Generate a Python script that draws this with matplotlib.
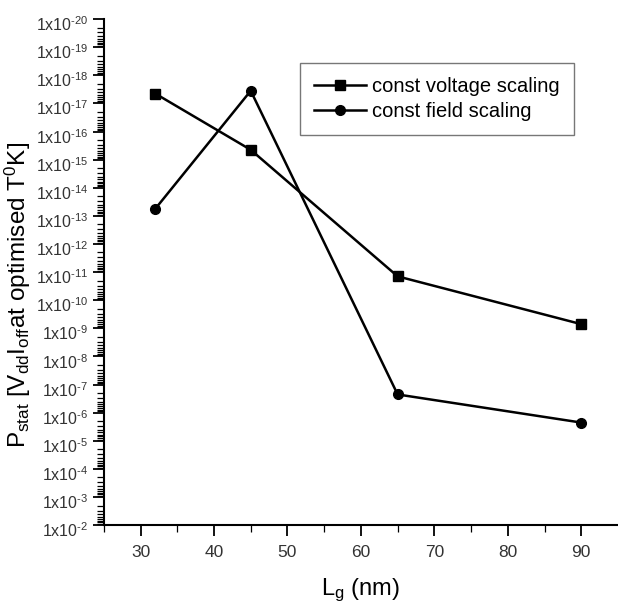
import numpy as np
import matplotlib.pyplot as plt
from matplotlib.ticker import LogLocator, FuncFormatter
import matplotlib.transforms as mtransforms

plt.rcParams['font.family'] = ['Liberation Sans', 'DejaVu Sans']
plt.rcParams['mathtext.fontset'] = 'custom'
plt.rcParams['mathtext.rm'] = 'Liberation Sans'
plt.rcParams['mathtext.it'] = 'Liberation Sans'

# gate length (nm)
lg = [32, 45, 65, 90]
# exponents n of 1x10^-n
volt_exp = [17.35, 15.35, 10.85, 9.15]
field_exp = [13.25, 17.45, 6.65, 5.65]
# decades shown on the y axis
decades = np.arange(2, 21)

volt = 10.0 ** (-np.array(volt_exp))
field = 10.0 ** (-np.array(field_exp))

fig = plt.figure(figsize=(6.18, 6.15), dpi=100)
ax = fig.add_axes([0.168, 0.146, 0.832, 0.823])

ax.plot(lg, volt, 'k-', marker='s', markersize=7, linewidth=1.8, label='const voltage scaling')
ax.plot(lg, field, 'k-', marker='o', markersize=7, linewidth=1.8, label='const field scaling')

ax.set_yscale('log')
ax.set_ylim(1e-2, 1e-20)
ax.set_xlim(25, 95)
ax.set_yticks(10.0 ** (-decades))
ax.yaxis.set_minor_locator(LogLocator(base=10, subs=np.arange(2, 10), numticks=30))
ax.yaxis.set_major_formatter(FuncFormatter(
    lambda v, p: '1x10$^{\\mathregular{\u2010%d}}$' % abs(round(np.log10(v)))))
ax.set_xticks([30, 40, 50, 60, 70, 80, 90])
ax.set_xticks([25, 35, 45, 55, 65, 75, 85], minor=True)

ax.spines['top'].set_visible(False)
ax.spines['right'].set_visible(False)
ax.spines['left'].set_linewidth(1.5)
ax.spines['bottom'].set_linewidth(1.5)
ax.tick_params(axis='both', which='major', direction='out', length=8, width=1.3, labelsize=12.5, labelcolor='#333333')
ax.tick_params(axis='y', which='major', labelsize=11.5, pad=3)
ax.tick_params(axis='both', which='minor', direction='out', length=5, width=0.9)
ax.tick_params(axis='x', which='major', pad=6)

# push the y tick labels down a little, as in the original
shift = mtransforms.ScaledTranslation(0, -3 / 72, fig.dpi_scale_trans)
for lab in ax.get_yticklabels():
    lab.set_transform(lab.get_transform() + shift)

ax.set_xlabel(r'L$_{\mathregular{g}}$ (nm)', fontsize=17, labelpad=12)
ax.set_ylabel(r'P$_{\mathregular{stat}}$ [V$_{\mathregular{dd}}$I$_{\mathregular{off}}$at optimised T$^{\mathregular{0}}$K]',
              fontsize=17.5)
ax.yaxis.set_label_coords(-0.138, 0.455)

leg = ax.legend(loc='upper left', bbox_to_anchor=(0.381, 0.913), frameon=True, fontsize=14.5,
                fancybox=False, edgecolor='#555555', handlelength=2.6, handletextpad=0.3,
                borderpad=0.7, labelspacing=0.3, borderaxespad=0)
leg.get_frame().set_linewidth(1.0)

fig.savefig('out.png', dpi=100)
